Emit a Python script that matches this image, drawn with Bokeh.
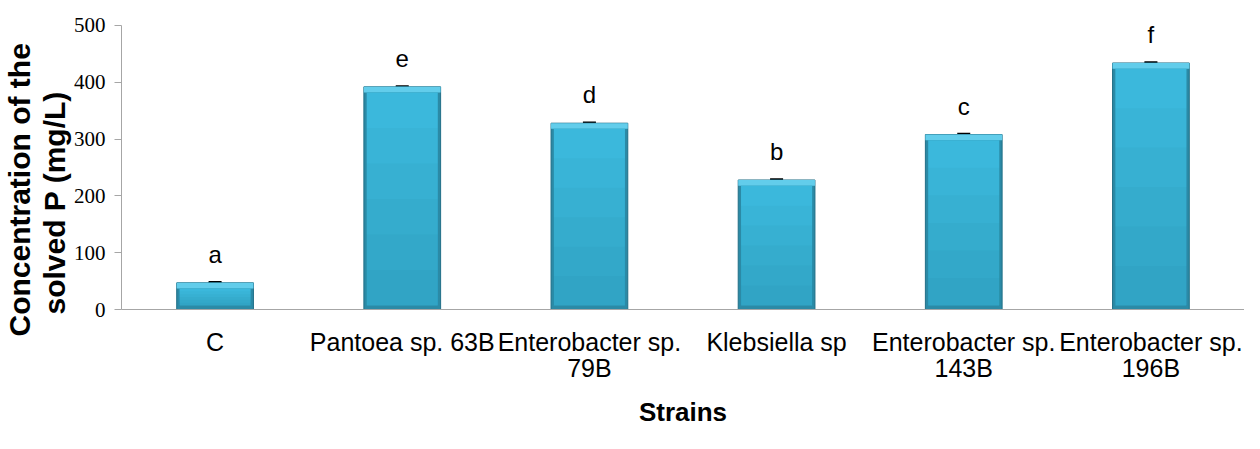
from bokeh.plotting import figure
from bokeh.models import (ColumnDataSource, FactorRange, Range1d, FixedTicker,
                          LabelSet, Whisker, TeeHead, Title)
from bokeh.core.properties import value
from bokeh.embed import file_html
from bokeh.resources import INLINE

# ---- data ----
strains = ["C", "Pantoea sp. 63B", "Enterobacter sp.\n79B", "Klebsiella sp",
           "Enterobacter sp.\n143B", "Enterobacter sp.\n196B"]
conc = [47, 392, 328, 228, 308, 434]
err = [1.2, 1.2, 1.2, 1.2, 1.2, 1.2]
letters = ["a", "e", "d", "b", "c", "f"]
y_ticks = [0, 100, 200, 300, 400, 500]
y_title_1 = "Concentration of the"
y_title_2 = "solved P (mg/L)"
x_title = "Strains"

SANS = "Liberation Sans"
top_bev = 10   # styling: bevel depths in data units
bot_bev = 7

src = ColumnDataSource(dict(
    x=strains, top=conc, letter=letters,
    upper=[v + e for v, e in zip(conc, err)],
    lower=[v - e for v, e in zip(conc, err)],
    face_top=[v - top_bev for v in conc],
))

p = figure(x_range=FactorRange(*strains, range_padding=0), y_range=Range1d(0, 544),
           width=1244, height=433, output_backend="svg", toolbar_location=None,
           min_border_left=120, min_border_right=0, min_border_top=0, min_border_bottom=124)
p.outline_line_color = None
p.xgrid.grid_line_color = None
p.ygrid.grid_line_color = None
p.background_fill_color = "white"
p.border_fill_color = "white"

# bars with a bevel look
p.vbar(x="x", top="top", bottom=0, width=0.41, source=src,
       fill_color="#2B8AA6", line_color="#216F87", line_width=1)
p.vbar(x="x", top="top", bottom="face_top", width=0.41, source=src,
       fill_color="#62CDEB", line_color=None)
p.vbar(x="x", top="face_top", bottom=bot_bev, width=0.38, source=src,
       fill_color="#3BB8DC", line_color=None)
# soft darkening toward the bottom of the face
for k in range(1, 6):
    frac = 1 - k / 6
    shade = ColumnDataSource(dict(
        x=strains, top=[bot_bev + (v - top_bev - bot_bev) * frac for v in conc]))
    p.vbar(x="x", top="top", bottom=bot_bev, width=0.38, source=shade,
           fill_color="#1A5F73", fill_alpha=0.045, line_color=None)

# error bars
p.add_layout(Whisker(source=src, base="x", upper="upper", lower="lower",
                     line_color="black", line_width=2,
                     upper_head=TeeHead(size=13, line_color="black", line_width=2),
                     lower_head=TeeHead(size=13, line_color="black", line_width=2)))

# significance letters
p.add_layout(LabelSet(source=src, x="x", y="top", text="letter", y_offset=20,
                      text_align="center", text_baseline="alphabetic",
                      text_font=value(SANS), text_font_size="24px",
                      text_color="black"))

# axes
p.yaxis.ticker = FixedTicker(ticks=y_ticks)
p.yaxis.bounds = (0, 500)
p.yaxis.axis_line_color = "#A6A6A6"
p.yaxis.major_tick_line_color = "#A6A6A6"
p.yaxis.major_tick_out = 7
p.yaxis.major_tick_in = 0
p.yaxis.minor_tick_line_color = None
p.yaxis.major_label_text_font = "Liberation Serif"
p.yaxis.major_label_text_font_size = "21px"
p.yaxis.major_label_text_color = "black"
p.yaxis.major_label_standoff = 9

p.xaxis.axis_line_color = "#A6A6A6"
p.xaxis.major_tick_line_color = None
p.xaxis.minor_tick_line_color = None
p.xaxis.major_label_text_font = SANS
p.xaxis.major_label_text_font_size = "25px"
p.xaxis.major_label_text_line_height = 0.95
p.xaxis.major_label_text_color = "black"
p.xaxis.major_label_standoff = 12
p.xaxis.axis_label = x_title
p.xaxis.axis_label_text_font = SANS
p.xaxis.axis_label_text_font_style = "bold"
p.xaxis.axis_label_text_font_size = "26px"
p.xaxis.axis_label_text_color = "black"
p.xaxis.axis_label_standoff = 12

# y title: two rotated lines placed in the left panel (start shifted below frame bottom)
for txt, off in [(y_title_2, -5), (y_title_1, -27)]:
    p.add_layout(Title(text=txt, align="left", offset=off, standoff=0,
                       text_font=SANS, text_font_style="bold", text_font_size="30px",
                       text_color="black", text_line_height=0.9), "left")

open("out.html", "w").write(file_html(p, INLINE))
